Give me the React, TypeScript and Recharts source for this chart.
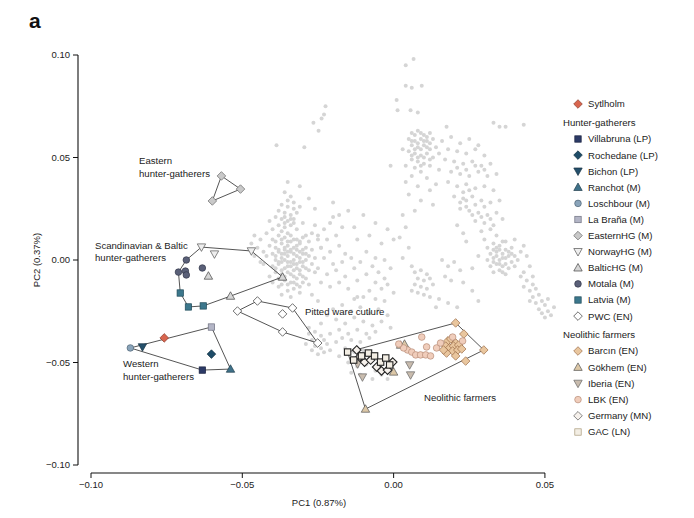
import React from 'react';
import { ScatterChart, Scatter, XAxis, YAxis, Legend } from 'recharts';

// ---------- tick labels ----------
const xTicks = [-0.1, -0.05, 0, 0.05];
const xTickLabels = ['\u22120.10', '\u22120.05', '0.00', '0.05'];
const yTicks = [-0.1, -0.05, 0, 0.05, 0.1];
const yTickLabels = ['\u22120.10', '\u22120.05', '0.00', '0.05', '0.10'];

// ---------- modern reference individuals (grey) [PC1, PC2] ----------
const greyCore = [
  [-0.040,0.010],[-0.038,0.012],[-0.036,0.011],[-0.034,0.012],[-0.032,0.010],[-0.030,0.011],[-0.028,0.009],
  [-0.041,0.007],[-0.039,0.006],[-0.037,0.008],[-0.035,0.007],[-0.033,0.006],[-0.031,0.008],[-0.029,0.006],[-0.027,0.005],
  [-0.040,0.003],[-0.038,0.004],[-0.036,0.003],[-0.034,0.004],[-0.032,0.002],[-0.030,0.003],[-0.028,0.002],[-0.026,0.001],
  [-0.039,0.000],[-0.037,0.001],[-0.035,-0.001],[-0.033,0.000],[-0.031,-0.001],[-0.029,0.000],[-0.027,-0.002],
  [-0.040,-0.003],[-0.038,-0.002],[-0.036,-0.004],[-0.034,-0.003],[-0.032,-0.004],[-0.030,-0.003],[-0.028,-0.005],
  [-0.039,-0.006],[-0.037,-0.007],[-0.035,-0.006],[-0.033,-0.008],[-0.031,-0.007],[-0.029,-0.009],
  [-0.036,-0.010],[-0.034,-0.011],[-0.032,-0.012],[-0.030,-0.011],[-0.038,-0.013],[-0.035,-0.015],[-0.033,-0.014],
  [-0.036,0.005],[-0.034,0.009],[-0.032,0.005],[-0.037,-0.001],[-0.033,-0.005],[-0.031,0.004],[-0.035,0.002],[-0.029,0.012],
  [-0.027,0.013],[-0.025,0.010],[-0.024,0.006],[-0.026,-0.006],[-0.028,-0.012],[-0.031,-0.016],[-0.034,-0.018],[-0.037,-0.017],
  [-0.042,0.002],[-0.043,-0.002],[-0.041,-0.008],[-0.040,-0.011],
];
const greyCoreDense = [
  [-0.039,0.009],[-0.037,0.010],[-0.035,0.009],[-0.033,0.010],[-0.031,0.009],
  [-0.038,0.005],[-0.036,0.006],[-0.034,0.005],[-0.032,0.007],[-0.030,0.005],
  [-0.039,0.002],[-0.037,0.003],[-0.035,0.004],[-0.033,0.003],[-0.031,0.001],[-0.029,0.003],
  [-0.038,-0.001],[-0.036,0.000],[-0.034,-0.001],[-0.032,-0.002],[-0.030,-0.001],
  [-0.039,-0.004],[-0.037,-0.005],[-0.035,-0.003],[-0.033,-0.002],[-0.031,-0.005],[-0.029,-0.004],
  [-0.038,-0.009],[-0.036,-0.008],[-0.034,-0.007],[-0.032,-0.009],[-0.030,-0.008],
  [-0.037,-0.012],[-0.035,-0.012],[-0.033,-0.011],[-0.031,-0.013],
  [-0.036,0.018],[-0.034,0.020],[-0.036,0.021],[-0.033,0.018],
];
const greyCoreUpper = [
  [-0.036,0.033],[-0.034,0.031],[-0.035,0.029],[-0.033,0.028],[-0.037,0.027],[-0.035,0.026],[-0.033,0.025],[-0.031,0.026],
  [-0.038,0.024],[-0.036,0.023],[-0.034,0.022],[-0.032,0.023],[-0.039,0.021],[-0.037,0.020],[-0.035,0.019],[-0.033,0.020],
  [-0.038,0.017],[-0.036,0.016],[-0.034,0.017],[-0.032,0.015],[-0.040,0.015],[-0.037,0.014],[-0.035,0.013],[-0.030,0.018],[-0.041,0.019],
];
const greyCoreWest = [
  [-0.046,0.012],[-0.044,0.010],[-0.045,0.006],[-0.043,0.004],[-0.046,0.002],[-0.044,-0.001],[-0.042,0.013],[-0.047,0.008],
];
const greySpread = [
  [-0.026,0.017],[-0.023,0.015],[-0.021,0.018],[-0.025,0.012],[-0.022,0.010],[-0.019,0.012],[-0.024,0.006],[-0.021,0.004],
  [-0.018,0.007],[-0.016,0.003],[-0.023,0.001],[-0.020,-0.002],[-0.017,-0.001],[-0.014,0.001],[-0.025,-0.004],[-0.022,-0.007],
  [-0.019,-0.005],[-0.016,-0.008],[-0.013,-0.004],[-0.011,-0.001],[-0.024,-0.011],[-0.021,-0.013],[-0.018,-0.011],[-0.015,-0.014],
  [-0.012,-0.010],[-0.009,-0.007],[-0.007,-0.003],[-0.005,-0.006],[-0.003,-0.009],[-0.001,-0.004],[-0.006,-0.011],[-0.004,-0.014],
  [-0.002,-0.012],[0.000,-0.016],[-0.008,-0.015],[-0.010,-0.018],[-0.013,-0.019],[-0.027,-0.017],[-0.025,-0.020],[-0.020,0.021],
  [-0.017,0.016],[-0.012,0.010],[-0.009,0.004],[-0.006,0.001],[-0.003,0.000],
];
const greyMid = [
  [-0.020,0.028],[-0.015,0.024],[-0.010,0.022],[-0.006,0.018],[-0.002,0.015],[0.000,0.010],[-0.013,0.016],[-0.008,0.012],
  [-0.004,0.008],[-0.018,0.022],
];
const greyPittedSide = [
  [-0.020,-0.024],[-0.017,-0.022],[-0.014,-0.025],[-0.011,-0.023],[-0.008,-0.026],[-0.019,-0.029],[-0.016,-0.031],[-0.013,-0.028],
  [-0.010,-0.030],[-0.007,-0.032],[-0.018,-0.034],[-0.015,-0.036],[-0.012,-0.034],[-0.009,-0.036],[-0.006,-0.035],[-0.004,-0.030],
  [-0.002,-0.027],[-0.005,-0.024],[-0.003,-0.020],[-0.014,-0.039],[-0.011,-0.040],[-0.017,-0.038],[-0.021,-0.036],[-0.019,-0.040],
  [-0.008,-0.038],[-0.001,-0.033],[-0.022,-0.027],[-0.024,-0.031],[-0.012,-0.018],[-0.006,-0.019],
];
const greyPittedTip = [
  [-0.028,-0.036],[-0.026,-0.035],[-0.024,-0.037],[-0.027,-0.039],[-0.025,-0.040],[-0.023,-0.039],[-0.029,-0.041],[-0.026,-0.042],
  [-0.024,-0.043],[-0.022,-0.041],[-0.027,-0.044],[-0.025,-0.046],[-0.023,-0.045],[-0.021,-0.044],[-0.028,-0.033],
];
const greyFarmerZone = [
  [-0.016,-0.043],[-0.013,-0.045],[-0.010,-0.044],[-0.008,-0.047],[-0.015,-0.050],[-0.012,-0.052],[-0.009,-0.051],[-0.006,-0.054],
  [-0.004,-0.056],[-0.002,-0.058],[-0.007,-0.058],[-0.011,-0.056],[-0.014,-0.055],[-0.018,-0.047],[-0.005,-0.049],
];
const greyTopSparse = [
  [0.0066,0.098],[0.004,0.095],[0.004,0.085],[0.006,0.084],[0.0093,0.085],[0.001,0.078],[0.0013,0.073],[0.0056,0.073],
  [0.008,0.072],[0.0175,0.065],[0.033,0.067],[0.035,0.065],[0.037,0.065],[0.043,0.066],
];
const greyNorthColumn = [
  [0.006,0.062],[0.008,0.063],[0.010,0.061],[0.012,0.062],[0.005,0.059],[0.007,0.058],[0.009,0.059],[0.011,0.058],[0.013,0.059],
  [0.006,0.056],[0.008,0.055],[0.010,0.056],[0.012,0.054],[0.005,0.053],[0.007,0.052],[0.009,0.051],[0.011,0.052],[0.013,0.050],
  [0.006,0.049],[0.008,0.048],[0.010,0.047],[0.004,0.046],[0.007,0.045],[0.012,0.046],[0.014,0.055],[0.015,0.052],
  [0.003,0.054],[0.009,0.043],[0.006,0.041],[0.011,0.040],[0.004,0.038],[0.008,0.036],[0.012,0.034],[0.005,0.032],
  [0.009,0.029],[0.013,0.027],[0.007,0.024],
];
const greyNorthDense = [
  [0.007,0.061],[0.009,0.062],[0.011,0.060],[0.006,0.058],[0.008,0.057],[0.010,0.058],[0.012,0.057],[0.007,0.054],
  [0.009,0.054],[0.011,0.055],[0.006,0.051],[0.008,0.050],[0.010,0.050],[0.012,0.049],[0.009,0.046],
];
const greyArc = [
  [0.016,0.058],[0.019,0.060],[0.022,0.057],[0.025,0.059],[0.028,0.056],[0.018,0.054],[0.021,0.053],[0.024,0.052],[0.027,0.054],
  [0.030,0.051],[0.017,0.049],[0.020,0.048],[0.023,0.047],[0.026,0.048],[0.029,0.046],[0.032,0.047],[0.019,0.043],[0.022,0.042],
  [0.025,0.041],[0.028,0.043],[0.031,0.041],[0.034,0.042],[0.018,0.038],[0.021,0.036],[0.024,0.037],[0.027,0.035],[0.030,0.036],
  [0.033,0.034],[0.020,0.031],[0.023,0.030],[0.026,0.031],[0.029,0.029],[0.032,0.028],[0.035,0.029],[0.022,0.025],[0.025,0.024],
  [0.028,0.023],[0.031,0.022],[0.034,0.023],[0.027,0.019],[0.030,0.018],[0.033,0.017],[0.036,0.020],[0.015,0.044],[0.014,0.037],
  [0.021,0.017],[0.023,0.013],[0.024,0.009],
];
const greyArcDense = [
  [0.022,0.028],[0.024,0.029],[0.027,0.027],[0.030,0.026],[0.024,0.026],[0.026,0.022],[0.029,0.021],[0.032,0.020],
  [0.023,0.033],[0.025,0.034],[0.021,0.045],[0.024,0.044],[0.027,0.046],[0.030,0.044],
];
const greyEastCluster = [
  [0.031,0.006],[0.033,0.008],[0.035,0.007],[0.037,0.009],[0.039,0.006],[0.032,0.003],[0.034,0.004],[0.036,0.003],[0.038,0.004],
  [0.040,0.002],[0.031,0.000],[0.033,0.001],[0.035,0.000],[0.037,0.001],[0.039,-0.001],[0.041,0.000],[0.032,-0.003],[0.034,-0.002],
  [0.036,-0.003],[0.038,-0.004],[0.033,-0.006],[0.035,-0.005],[0.037,-0.007],[0.030,0.010],[0.034,0.012],[0.029,0.014],[0.032,0.015],
  [0.040,0.010],[0.042,0.004],[0.028,0.002],[0.026,-0.004],[0.043,-0.006],[0.043,0.007],[0.044,0.002],[0.045,-0.003],
];
const greyEastDense = [
  [0.033,0.005],[0.035,0.005],[0.037,0.005],[0.034,0.002],[0.036,0.001],[0.038,0.002],[0.033,-0.001],[0.035,-0.002],
  [0.037,-0.002],[0.034,0.006],[0.036,0.009],[0.039,0.003],[0.040,-0.003],[0.036,-0.006],
];
const greyEastTail = [
  [0.044,-0.010],[0.046,-0.012],[0.045,-0.015],[0.047,-0.014],[0.048,-0.017],[0.046,-0.018],[0.049,-0.020],[0.047,-0.021],
  [0.050,-0.022],[0.048,-0.024],[0.051,-0.025],[0.049,-0.026],[0.052,-0.027],[0.050,-0.028],[0.043,-0.013],[0.045,-0.020],
  [0.051,-0.019],[0.053,-0.023],[0.042,-0.008],[0.046,-0.008],
];
const greyCentralColumn = [
  [0.003,0.022],[0.004,0.016],[0.002,0.011],[0.005,0.006],[0.003,0.001],[0.006,-0.003],
  [0.007,-0.006],[0.009,-0.005],[0.011,-0.007],[0.008,-0.009],[0.010,-0.010],[0.012,-0.009],[0.007,-0.012],[0.009,-0.013],
  [0.011,-0.014],[0.013,-0.012],[0.008,-0.016],[0.010,-0.017],[0.012,-0.018],[0.006,-0.015],
  [0.016,0.000],[0.018,-0.003],[0.020,-0.001],[0.022,-0.005],[0.017,-0.008],[0.019,-0.010],[0.023,-0.011],[0.015,-0.019],
  [0.018,-0.021],[0.021,-0.023],[0.014,-0.023],[0.026,-0.015],[0.028,-0.020],
];
const greyUpperLeft = [
  [-0.0225,0.075],[-0.0238,0.069],[-0.0265,0.067],[-0.0248,0.063],[-0.0387,0.056],[-0.0295,0.055],[-0.001,0.046],
  [-0.0230,0.071],[-0.035,0.038],[-0.031,0.036],[-0.028,0.030],[-0.026,0.025],
];

// ---------- ancient individuals [PC1, PC2] ----------
const sytlholm = [[-0.0758,-0.0380]];
const villabruna = [[-0.0632,-0.0537]];
const rochedane = [[-0.0602,-0.0459]];
const bichon = [[-0.0830,-0.0424]];
const ranchot = [[-0.0539,-0.0532]];
const loschbour = [[-0.0870,-0.0429]];
const laBrana = [[-0.0602,-0.0327]];
const easternHG = [[-0.0569,0.0410],[-0.0506,0.0346],[-0.0599,0.0288]];
const norwayHG = [[-0.0635,0.0063],[-0.0592,0.0029],[-0.0470,0.0044]];
const balticHG = [[-0.0612,-0.0078],[-0.0367,-0.0083],[-0.0539,-0.0176]];
const motala = [[-0.0685,0.0000],[-0.0711,-0.0059],[-0.0688,-0.0054],[-0.0685,-0.0073],[-0.0632,-0.0039]];
const latvia = [[-0.0705,-0.0161],[-0.0678,-0.0229],[-0.0629,-0.0224]];
const pwc = [[-0.0516,-0.0249],[-0.0450,-0.0200],[-0.0334,-0.0234],[-0.0367,-0.0263],[-0.0367,-0.0351],[-0.0251,-0.0405]];

const barcin = [
  [0.0205,-0.0307],[0.0232,-0.0361],[0.0298,-0.0439],[0.0238,-0.0493],
  [0.0179,-0.0395],[0.0189,-0.0385],[0.0205,-0.0405],[0.0172,-0.0420],[0.0185,-0.0429],[0.0198,-0.0420],
  [0.0215,-0.0415],[0.0195,-0.0444],[0.0212,-0.0439],[0.0175,-0.0454],[0.0205,-0.0468],[0.0225,-0.0434],[0.0165,-0.0439],
];
const gokhem = [[-0.0093,-0.0727],[0.0023,-0.0415],[0.0036,-0.0410],[0.0000,-0.0546]];
const iberia = [[-0.0103,-0.0571],[0.0053,-0.0512],[0.0056,-0.0561],[-0.0119,-0.0507]];
const lbk = [
  [0.0093,-0.0376],[0.0109,-0.0424],[0.0046,-0.0439],[0.0060,-0.0449],[0.0073,-0.0463],[0.0089,-0.0463],[0.0106,-0.0463],
  [0.0122,-0.0468],[0.0033,-0.0429],[0.0017,-0.0410],[0.0142,-0.0429],[0.0155,-0.0405],[0.0195,-0.0376],[0.0228,-0.0395],
];
const germany = [
  [-0.0122,-0.0439],[-0.0096,-0.0498],[-0.0076,-0.0488],[-0.0056,-0.0522],[-0.0040,-0.0541],[-0.0020,-0.0537],
  [-0.0112,-0.0473],[-0.0003,-0.0498],
];
const gac = [
  [-0.0152,-0.0449],[-0.0132,-0.0488],[-0.0106,-0.0468],[-0.0083,-0.0454],[-0.0063,-0.0468],[-0.0043,-0.0498],
  [-0.0013,-0.0512],[-0.0026,-0.0478],
];

// ---------- helpers ----------
type Pt = { x: number; y: number };
const toPts = (arr: number[][]): Pt[] => arr.map(([x, y]) => ({ x, y }));

const greyAll: Pt[] = toPts([
  ...greyCore, ...greyCoreDense, ...greyCoreUpper, ...greyCoreWest, ...greySpread, ...greyMid, ...greyPittedSide,
  ...greyPittedTip, ...greyFarmerZone, ...greyTopSparse, ...greyNorthColumn, ...greyNorthDense, ...greyArc,
  ...greyArcDense, ...greyEastCluster, ...greyEastDense, ...greyEastTail, ...greyCentralColumn, ...greyUpperLeft,
]);

// outline polygons built from sample points
const hullEastern = [easternHG[0], easternHG[1], easternHG[2], easternHG[0]];
const hullScandi = [norwayHG[0], norwayHG[2], balticHG[1], balticHG[2], latvia[2], latvia[1], latvia[0], motala[1], motala[0], norwayHG[0]];
const hullPitted = [pwc[0], pwc[1], pwc[2], pwc[5], pwc[4], pwc[0]];
const hullWestern = [loschbour[0], laBrana[0], ranchot[0], villabruna[0], loschbour[0]];
const hullFarmers = [gac[0], barcin[0], barcin[2], gokhem[0], gac[0]];
const hulls = [hullEastern, hullScandi, hullPitted, hullWestern, hullFarmers];

type Kind = 'circle' | 'square' | 'diamond' | 'up' | 'down';

function Mark({ cx, cy, kind, fill, stroke, sw = 0.7 }: { cx: number; cy: number; kind: Kind; fill: string; stroke: string; sw?: number }) {
  const common = { fill, stroke, strokeWidth: sw };
  if (kind === 'circle') return <circle cx={cx} cy={cy} r={3.3} {...common} />;
  if (kind === 'square') return <rect x={cx - 3.2} y={cy - 3.2} width={6.4} height={6.4} {...common} />;
  if (kind === 'diamond') {
    const d = 4.3;
    return <polygon points={`${cx},${cy - d} ${cx + d},${cy} ${cx},${cy + d} ${cx - d},${cy}`} {...common} />;
  }
  if (kind === 'up') {
    return <polygon points={`${cx},${cy - 4.3} ${cx + 4.2},${cy + 3.2} ${cx - 4.2},${cy + 3.2}`} {...common} />;
  }
  return <polygon points={`${cx},${cy + 4.3} ${cx + 4.2},${cy - 3.2} ${cx - 4.2},${cy - 3.2}`} {...common} />;
}

type Series = { name: string; data: number[][]; kind: Kind; fill: string; stroke: string; sw?: number; legendStroke?: string };

const sytlholmSeries: Series = { name: 'Sytlholm', data: sytlholm, kind: 'diamond', fill: '#D8654E', stroke: '#8A3B2B' };
const hgSeries: Series[] = [
  { name: 'Villabruna (LP)', data: villabruna, kind: 'square', fill: '#2C3A66', stroke: '#1A2240' },
  { name: 'Rochedane (LP)', data: rochedane, kind: 'diamond', fill: '#1E4C68', stroke: '#12303F' },
  { name: 'Bichon (LP)', data: bichon, kind: 'down', fill: '#24506C', stroke: '#142F40' },
  { name: 'Ranchot (M)', data: ranchot, kind: 'up', fill: '#3F7189', stroke: '#22404F' },
  { name: 'Loschbour (M)', data: loschbour, kind: 'circle', fill: '#8AA4BA', stroke: '#4F6476' },
  { name: 'La Bra\u00f1a (M)', data: laBrana, kind: 'square', fill: '#B3B5C6', stroke: '#6E7080' },
  { name: 'EasternHG (M)', data: easternHG, kind: 'diamond', fill: '#C9C9C9', stroke: '#666666' },
  { name: 'NorwayHG (M)', data: norwayHG, kind: 'down', fill: '#EEEEEE', stroke: '#555555' },
  { name: 'BalticHG (M)', data: balticHG, kind: 'up', fill: '#D6D6D6', stroke: '#444444' },
  { name: 'Motala (M)', data: motala, kind: 'circle', fill: '#5A6078', stroke: '#33384A' },
  { name: 'Latvia (M)', data: latvia, kind: 'square', fill: '#3C778C', stroke: '#204B5A' },
  { name: 'PWC (EN)', data: pwc, kind: 'diamond', fill: '#FFFFFF', stroke: '#333333' },
];
const nfSeries: Series[] = [
  { name: 'Barc\u0131n (EN)', data: barcin, kind: 'diamond', fill: '#E9C69E', stroke: '#9A6A45' },
  { name: 'G\u00f6khem (EN)', data: gokhem, kind: 'up', fill: '#DCC7A6', stroke: '#555555' },
  { name: 'Iberia (EN)', data: iberia, kind: 'down', fill: '#C9BCAE', stroke: '#666666' },
  { name: 'LBK (EN)', data: lbk, kind: 'circle', fill: '#F0CDBB', stroke: '#B88C78' },
  { name: 'Germany (MN)', data: germany, kind: 'diamond', fill: '#F6F1EC', stroke: '#222222', sw: 1.1, legendStroke: '#555555' },
  { name: 'GAC (LN)', data: gac, kind: 'square', fill: '#F3EEE4', stroke: '#222222', sw: 1.1, legendStroke: '#A89878' },
];
const allSeries = [...hgSeries, ...nfSeries, sytlholmSeries];

const FONT = '"Liberation Sans", Arial, Helvetica, sans-serif';
const TXT = '#222222';

// ---------- legend ----------
const LEG_LEFT = 555;
const LEG_TOP = 95;
function LegendBox() {
  const rows: React.ReactNode[] = [];
  const item = (s: Series, y: number, key: string) => (
    <g key={key}>
      <Mark cx={23} cy={y} kind={s.kind} fill={s.fill} stroke={s.legendStroke ?? s.stroke} sw={0.7} />
      <text x={33} y={y + 3.4} fontSize={9.6} fill={TXT} fontFamily={FONT}>{s.name}</text>
    </g>
  );
  rows.push(item(sytlholmSeries, 9, 'syt'));
  rows.push(<text key="h1" x={8} y={30.5} fontSize={9.6} fill={TXT} fontFamily={FONT}>Hunter-gatherers</text>);
  hgSeries.forEach((s, i) => rows.push(item(s, 44 + i * 16.1, 'hg' + i)));
  rows.push(<text key="h2" x={8} y={242.5} fontSize={9.6} fill={TXT} fontFamily={FONT}>Neolithic farmers</text>);
  nfSeries.forEach((s, i) => rows.push(item(s, 256 + i * 16.2, 'nf' + i)));
  return (
    <svg width={139} height={350} style={{ display: 'block' }}>
      {rows}
    </svg>
  );
}

export default function App() {
  return (
    <div style={{ position: 'absolute', left: 0, top: 0, width: 694, height: 518, background: '#fff' }}>
      <ScatterChart width={694} height={518} margin={{ top: 55, right: 140, bottom: 15, left: 38 }}>
        <XAxis
          type="number"
          dataKey="x"
          domain={[-0.1, 0.05]}
          ticks={xTicks}
          tickFormatter={(v: number) => xTickLabels[xTicks.indexOf(v)] ?? String(v)}
          padding={{ left: 13, right: 0 }}
          height={30}
          tickSize={5}
          tickMargin={3}
          axisLine={{ stroke: '#111', strokeWidth: 1.1, strokeDasharray: '0 13 454 1000' }}
          tickLine={{ stroke: '#111', strokeWidth: 1 }}
          tick={{ fontSize: 9.5, fill: TXT, fontFamily: FONT }}
          interval={0}
        />
        <YAxis
          type="number"
          dataKey="y"
          domain={[-0.1, 0.1]}
          ticks={yTicks}
          tickFormatter={(v: number) => yTickLabels[yTicks.indexOf(v)] ?? String(v)}
          padding={{ top: 0, bottom: 8 }}
          width={40}
          tickSize={5}
          tickMargin={3}
          axisLine={{ stroke: '#111', strokeWidth: 1.1, strokeDasharray: '410 1000' }}
          tickLine={{ stroke: '#111', strokeWidth: 1 }}
          tick={{ fontSize: 9.5, fill: TXT, fontFamily: FONT }}
          interval={0}
        />
        <Scatter
          data={greyAll}
          isAnimationActive={false}
          legendType="none"
          shape={(p: any) => <circle cx={p.cx} cy={p.cy} r={2} fill="#D5D5D5" />}
        />
        {hulls.map((h, i) => (
          <Scatter
            key={'hull' + i}
            data={toPts(h)}
            isAnimationActive={false}
            legendType="none"
            line={{ stroke: '#2a2a2a', strokeWidth: 0.8 }}
            lineType="joint"
            shape={() => <g />}
          />
        ))}
        {allSeries.map((s) => (
          <Scatter
            key={s.name}
            name={s.name}
            data={toPts(s.data)}
            isAnimationActive={false}
            shape={(p: any) => <Mark cx={p.cx} cy={p.cy} kind={s.kind} fill={s.fill} stroke={s.stroke} sw={s.sw ?? 0.7} />}
          />
        ))}
        <Legend
          layout="vertical"
          align="center"
          verticalAlign="middle"
          content={() => <LegendBox />}
          wrapperStyle={{ left: LEG_LEFT, top: LEG_TOP, width: 139, height: 350 }}
        />
      </ScatterChart>
      <svg
        width={694}
        height={518}
        style={{ position: 'absolute', left: 0, top: 0, pointerEvents: 'none' }}
        fontFamily={FONT}
      >
        <text x={29} y={28} fontSize={21} fontWeight="bold" fill="#111">a</text>
        <g fontSize={9.6} fill={TXT}>
          <text x={139} y={164}>Eastern</text>
          <text x={139} y={177}>hunter-gatherers</text>
          <text x={95} y={249}>Scandinavian &amp; Baltic</text>
          <text x={95} y={261}>hunter-gatherers</text>
          <text x={123} y={367}>Western</text>
          <text x={123} y={380}>hunter-gatherers</text>
          <text x={305} y={315}>Pitted ware cutlure</text>
          <text x={424} y={401}>Neolithic farmers</text>
        </g>
        <text x={319} y={506} fontSize={9.5} fill={TXT} textAnchor="middle">PC1 (0.87%)</text>
        <text x={40} y={260} fontSize={9.5} fill={TXT} textAnchor="middle" transform="rotate(-90 40 260)">PC2 (0.37%)</text>
      </svg>
    </div>
  );
}
